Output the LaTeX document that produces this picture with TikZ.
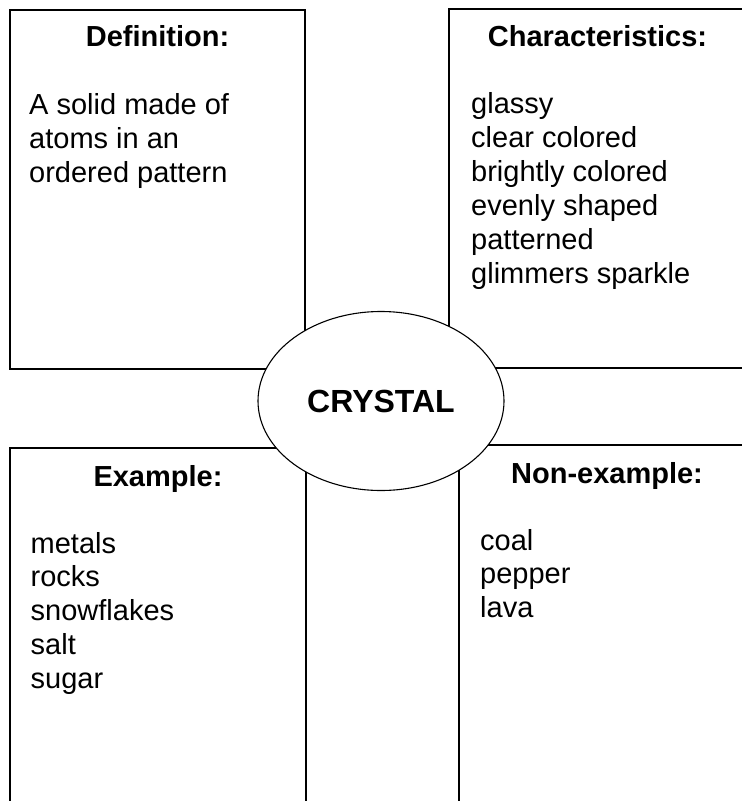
\documentclass[tikz,border=0pt]{standalone}
\usepackage{fontspec}
\setmainfont{Liberation Sans}
\usetikzlibrary{shapes.geometric}
\begin{document}
\begin{tikzpicture}[x=1pt,y=-1pt,
    box/.style={line width=1.6pt},
    head/.style={font=\fontsize{29}{34}\selectfont\bfseries,anchor=base,inner sep=0pt},
    item/.style={font=\fontsize{29}{34}\selectfont,anchor=base west,inner sep=0pt}]
      \useasboundingbox (0,0) rectangle (742,801);

      \draw[box] (10,10) rectangle (305,369);
      \draw[box] (449,9) rectangle (746,368);
      \draw[box] (10,448) rectangle (306,830);
      \draw[box] (459,445) rectangle (755,830);

      \node[head] (defhead) at (157.5,46) {Definition:};
      \node[head] (charhead) at (597.5,46) {Characteristics:};
      \node[head] (exhead) at (158,486) {Example:};
      \node[head] (nonhead) at (607,483) {Non-example:};

      \foreach \txt [count=\i] in {A solid made of, atoms in an, ordered pattern}
        \node[item] (def\i) at (29,{80+34*\i}) {\txt};
      \foreach \txt [count=\i] in {glassy, clear colored, brightly colored, evenly shaped, patterned, glimmers sparkle}
        \node[item] (char\i) at (471,{79.5+34*\i}) {\txt};
      \foreach \txt [count=\i] in {metals, rocks, snowflakes, salt, sugar}
        \node[item] (ex\i) at (30.5,{519.5+33.7*\i}) {\txt};
      \foreach \txt [count=\i] in {coal, pepper, lava}
        \node[item] (non\i) at (480,{516.5+33.5*\i}) {\txt};

      \node[draw,ellipse,fill=white,line width=1.1pt,inner sep=0pt,
            minimum width=246pt,minimum height=179pt,
            font=\fontsize{32}{38}\selectfont\bfseries] (crystal) at (381,401) {CRYSTAL};
    \end{tikzpicture}
\end{document}
